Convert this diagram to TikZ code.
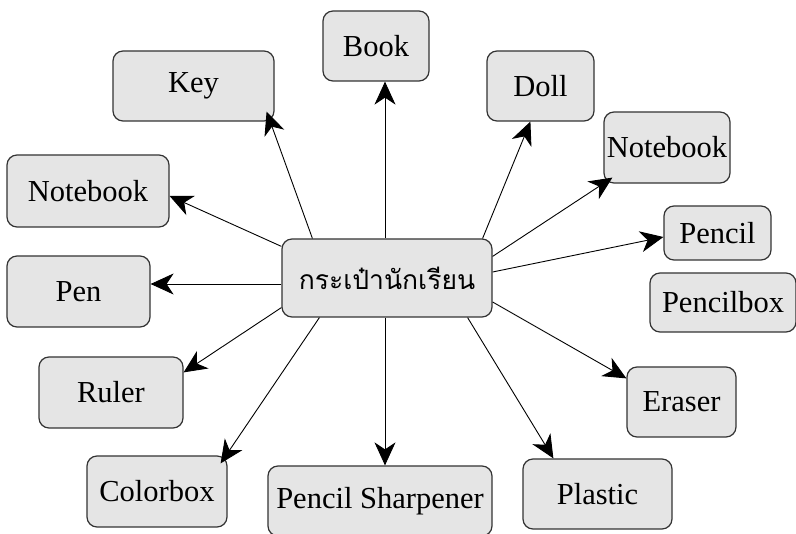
\documentclass[tikz,border=0pt]{standalone}
\usepackage{fontspec}
\setmainfont{Liberation Serif}
\newfontfamily\thaifont[Script=Thai]{Loma}
\usetikzlibrary{arrows.meta}

\begin{document}
\begin{tikzpicture}[x=1pt,y=-1pt,
	box/.style={draw=black!80,fill=black!10,line width=1.2pt,rounded corners=10pt,inner sep=2pt,font=\fontsize{30.5}{36}\selectfont},
	arr/.style={-{Stealth[length=23pt,width=21pt,inset=7pt]},line width=0.9pt}]
		\useasboundingbox (0,0) rectangle (796,534);
		\draw
		node[box,minimum width=210pt,minimum height=78pt] (bag) at (387,278){\thaifont\fontsize{26.5}{32}\selectfont กระเป๋านักเรียน}
		node[box,minimum width=161pt,minimum height=70pt] (key) at (193.5,86){Key}
		node[box,minimum width=106pt,minimum height=70pt] (book) at (376,46){Book}
		node[box,minimum width=107pt,minimum height=70pt] (doll) at (540.5,86){Doll}
		node[box,minimum width=126pt,minimum height=71pt] (notebook_right) at (667,147.5){Notebook}
		node[box,minimum width=107pt,minimum height=54pt] (pencil) at (717.5,233){Pencil}
		node[box,minimum width=146pt,minimum height=59pt] (pencilbox) at (723,302.5){Pencilbox}
		node[box,minimum width=109pt,minimum height=70pt] (eraser) at (681.5,402){Eraser}
		node[box,minimum width=149pt,minimum height=70pt] (plastic) at (597.5,494){Plastic}
		node[box,minimum width=224pt,minimum height=70pt] (sharpener) at (380,501){Pencil Sharpener}
		node[box,minimum width=140pt,minimum height=71pt] (colorbox) at (157,491.5){Colorbox}
		node[box,minimum width=144pt,minimum height=71pt] (ruler) at (111,392.5){Ruler}
		node[box,minimum width=143pt,minimum height=71pt] (pen) at (78.5,291.5){Pen}
		node[box,minimum width=162pt,minimum height=72pt] (notebook_left) at (88,191){Notebook};
		\draw [arr] ([xshift=31pt]bag.north west) -- ([xshift=-8pt,yshift=10pt]key.south east);
		\draw [arr] ([xshift=-2pt]bag.north) -- ([xshift=9pt]book.south);
		\draw [arr] ([xshift=-10pt]bag.north east) -- ([xshift=44pt]doll.south west);
		\draw [arr] ([yshift=-18pt]bag.north east) -- ([xshift=9pt,yshift=6pt]notebook_right.south west);
		\draw [arr] ([yshift=6pt]bag.east) -- ([yshift=-4pt]pencil.west);
		\draw [arr] ([yshift=-24pt]bag.east) -- ([yshift=-12pt]eraser.north west);
		\draw [arr] ([xshift=-25pt]bag.south east) -- ([xshift=31pt]plastic.north west);
		\draw [arr] ([xshift=-2pt]bag.south) -- ([xshift=5pt]sharpener.north);
		\draw [arr] ([xshift=38pt]bag.south west) -- ([xshift=-7pt,yshift=-8pt]colorbox.north east);
		\draw [arr] ([yshift=10pt]bag.south west) -- ([yshift=-16pt]ruler.north east);
		\draw [arr] ([yshift=-6pt]bag.west) -- ([yshift=7.5pt]pen.east);
		\draw [arr] ([yshift=-8pt]bag.north west) -- ([yshift=-5pt]notebook_left.east);
\end{tikzpicture}
\end{document}
